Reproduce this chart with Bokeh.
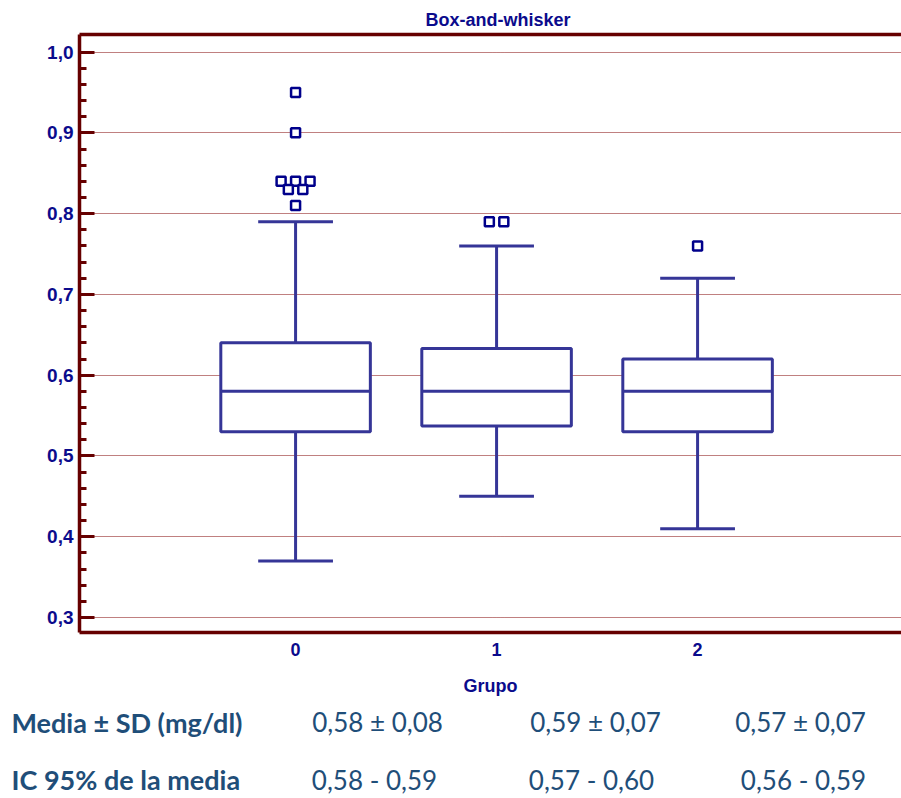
from bokeh.plotting import figure
from bokeh.models import Range1d, FixedTicker, LinearAxis
from bokeh.core.properties import value
from bokeh.embed import file_html
from bokeh.resources import INLINE

# ---------------- data ----------------
groups = [0, 1, 2]
group_labels = ["0", "1", "2"]
q1 = [0.53, 0.537, 0.53]
median = [0.58, 0.58, 0.58]
q3 = [0.64, 0.633, 0.62]
whisker_low = [0.37, 0.45, 0.41]
whisker_high = [0.79, 0.76, 0.72]

outlier_group = [0, 0, 0, 0, 0, 0, 0, 0, 1, 1, 2]
outlier_value = [0.95, 0.90, 0.84, 0.84, 0.84, 0.83, 0.83, 0.81, 0.79, 0.79, 0.76]
outlier_slot = [0, 0, -2, 0, 2, -1, 1, 0, -1, 1, 0]   # side-by-side placement of ties

y_ticks = [0.3, 0.4, 0.5, 0.6, 0.7, 0.8, 0.9, 1.0]
y_tick_labels = ["0,3", "0,4", "0,5", "0,6", "0,7", "0,8", "0,9", "1,0"]
y_minor = [round(0.3 + 0.02 * i, 2) for i in range(36)]

title_text = "Box-and-whisker"
x_label = "Grupo"

row_labels = ["Media \u00b1 SD (mg/dl)", "IC 95%  de la media"]
mean_sd = ["0,58 \u00b1 0,08", "0,59 \u00b1 0,07", "0,57 \u00b1 0,07"]
ci95 = ["0,58 - 0,59", "0,57 - 0,60", "0,56 - 0,59"]

# ---------------- styles / layout ----------------
AXIS_RED = "#660000"
NAVY = "#0B0B8C"
BOX = "#353597"
OUT = "#00008B"
TABLE = "#1F4E79"
FONT = "Liberation Sans"
TFONT = "Lato"

W, H = 901, 798
F_LEFT, F_TOP, F_BOTTOM = 79, 34, 632

BOX_HALF = 0.372
CAP_HALF = 0.186
SLOT = 0.036

x0 = -1.075
p = figure(width=W, height=H,
           x_range=Range1d(x0, x0 + (W - F_LEFT) / 201.0),
           y_range=Range1d(0.2814, 1.0218),
           output_backend="svg", toolbar_location=None,
           min_border_left=F_LEFT, min_border_right=0,
           min_border_top=F_TOP, min_border_bottom=H - F_BOTTOM,
           title=title_text)
p.outline_line_color = None
p.background_fill_color = "white"
p.border_fill_color = "white"
# pixel-like ranges for the text table under the chart
p.extra_x_ranges = {"px": Range1d(F_LEFT, W)}
p.extra_y_ranges = {"py": Range1d(F_BOTTOM, F_TOP)}

p.title.text_font = FONT
p.title.text_font_size = "18px"
p.title.text_font_style = "bold"
p.title.text_color = NAVY
p.title.align = "left"
p.title.offset = 346
p.title.standoff = 10

# y axis
yt = FixedTicker(ticks=y_ticks, minor_ticks=y_minor)
p.yaxis.ticker = yt
p.ygrid.ticker = yt
p.yaxis.major_label_overrides = {t: l for t, l in zip(y_ticks, y_tick_labels)}
p.yaxis.axis_line_color = AXIS_RED
p.yaxis.axis_line_width = 3.5
p.yaxis.major_tick_line_color = AXIS_RED
p.yaxis.major_tick_line_width = 3
p.yaxis.major_tick_in = 15
p.yaxis.major_tick_out = 0
p.yaxis.minor_tick_line_color = AXIS_RED
p.yaxis.minor_tick_line_width = 3
p.yaxis.minor_tick_in = 7
p.yaxis.minor_tick_out = 0
p.yaxis.major_label_text_font = FONT
p.yaxis.major_label_text_font_size = "19px"
p.yaxis.major_label_text_font_style = "bold"
p.yaxis.major_label_text_color = NAVY
p.yaxis.major_label_standoff = 6

# x axis
xt = FixedTicker(ticks=groups, minor_ticks=[])
p.xaxis.ticker = xt
p.xaxis.major_label_overrides = {g: l for g, l in zip(groups, group_labels)}
p.xaxis.axis_line_color = AXIS_RED
p.xaxis.axis_line_width = 3.5
p.xaxis.major_tick_in = 0
p.xaxis.major_tick_out = 0
p.xaxis.minor_tick_in = 0
p.xaxis.minor_tick_out = 0
p.xaxis.major_label_text_font = FONT
p.xaxis.major_label_text_font_size = "18px"
p.xaxis.major_label_text_font_style = "bold"
p.xaxis.major_label_text_color = NAVY
p.xaxis.major_label_standoff = 10
p.xaxis.axis_label = x_label
p.xaxis.axis_label_text_font = FONT
p.xaxis.axis_label_text_font_size = "18px"
p.xaxis.axis_label_text_font_style = "bold"
p.xaxis.axis_label_text_color = NAVY
p.xaxis.axis_label_standoff = 17

# top border
top_axis = LinearAxis(ticker=FixedTicker(ticks=[], minor_ticks=[]),
                      axis_line_color=AXIS_RED, axis_line_width=3.5,
                      major_tick_in=0, major_tick_out=0,
                      minor_tick_in=0, minor_tick_out=0,
                      major_label_standoff=0)
p.add_layout(top_axis, "above")

p.xgrid.visible = False
p.ygrid.grid_line_color = "#800000"
p.ygrid.grid_line_dash = "1 1"
p.ygrid.grid_line_width = 1

# boxes
lefts = [g - BOX_HALF for g in groups]
rights = [g + BOX_HALF for g in groups]
p.segment(x0=groups, x1=groups, y0=q3, y1=whisker_high, line_color=BOX, line_width=3)
p.segment(x0=groups, x1=groups, y0=q1, y1=whisker_low, line_color=BOX, line_width=3)
p.quad(left=lefts, right=rights, bottom=q1, top=q3,
       fill_color="white", line_color=BOX, line_width=3)
p.segment(x0=lefts, x1=rights, y0=median, y1=median, line_color=BOX, line_width=3)
p.segment(x0=[g - CAP_HALF for g in groups], x1=[g + CAP_HALF for g in groups],
          y0=whisker_high, y1=whisker_high, line_color=BOX, line_width=3)
p.segment(x0=[g - CAP_HALF for g in groups], x1=[g + CAP_HALF for g in groups],
          y0=whisker_low, y1=whisker_low, line_color=BOX, line_width=3)

# outliers
ox = [g + s * SLOT for g, s in zip(outlier_group, outlier_slot)]
p.scatter(x=ox, y=outlier_value, marker="square", size=9,
          fill_color="white", line_color=OUT, line_width=2.5)

# ---------------- table under the chart ----------------
row_base = [721.5, 779]
label_x = [11, 11]
col_center_row1 = [377, 595, 800]
col_center_row2 = [374, 591, 803]

common = dict(x_range_name="px", y_range_name="py", level="overlay",
              text_font=value(TFONT), text_color=TABLE,
              text_baseline="alphabetic")
p.text(x=label_x, y=row_base, text=row_labels, text_font_style="bold",
       text_font_size="27px", text_align="left", **common)
p.text(x=col_center_row1, y=[row_base[0]] * 3, text=mean_sd,
       text_font_size="26px", text_align="center", **common)
p.text(x=col_center_row2, y=[row_base[1]] * 3, text=ci95,
       text_font_size="26px", text_align="center", **common)

open("out.html", "w").write(file_html(p, INLINE))
